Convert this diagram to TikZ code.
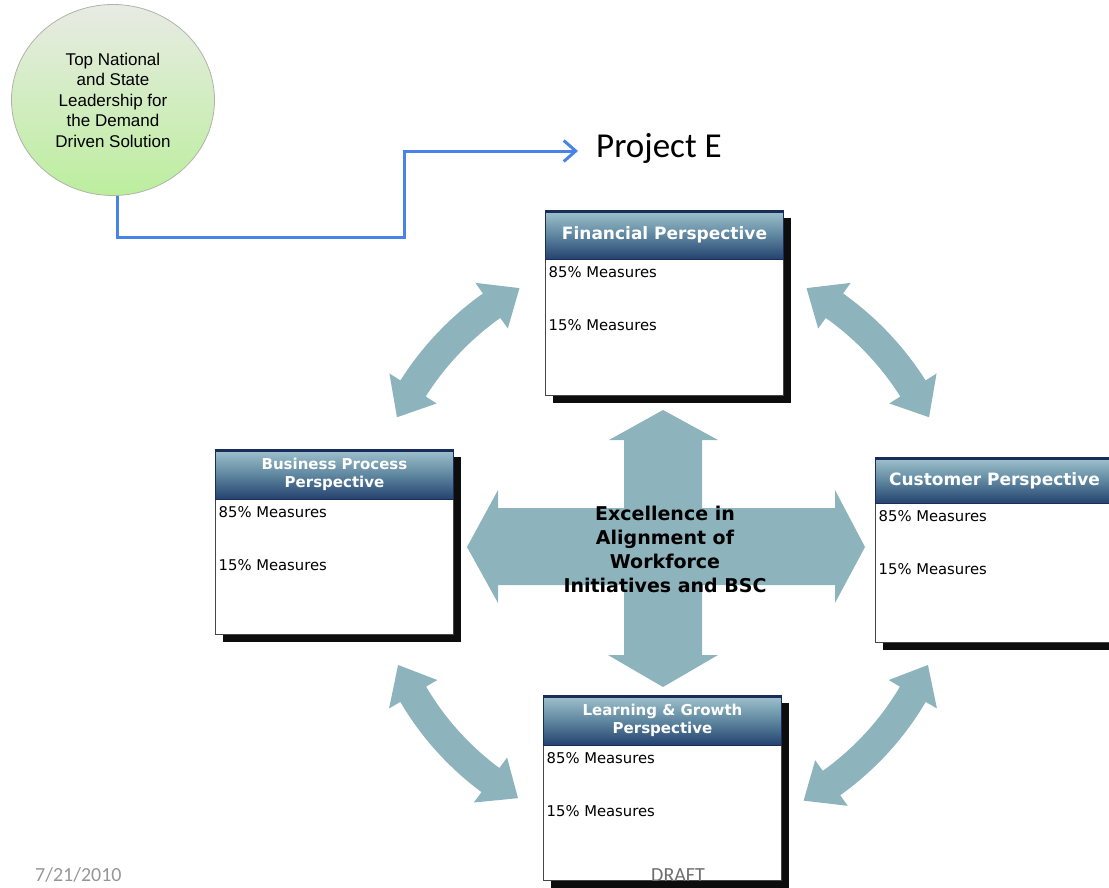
\documentclass[tikz,border=0pt]{standalone}
\usepackage{fontspec}
\setmainfont{DejaVu Sans}
\newfontfamily\arialf{Liberation Sans}
\newfontfamily\calif{Carlito}
\usetikzlibrary{arrows.meta,shapes.geometric,shadows}
\definecolor{arrowc}{RGB}{141,180,189}
\definecolor{connc}{RGB}{72,132,232}
\definecolor{navyc}{RGB}{25,45,90}
\definecolor{headtop}{RGB}{160,195,205}
\definecolor{headmid}{RGB}{95,135,160}
\definecolor{headbot}{RGB}{35,65,110}
\definecolor{leadtop}{RGB}{232,235,228}
\definecolor{leadbot}{RGB}{188,238,158}
\definecolor{leadline}{RGB}{175,180,170}
\definecolor{boxline}{RGB}{70,70,70}
\definecolor{dategray}{RGB}{150,150,150}
\definecolor{draftgray}{RGB}{110,110,110}

\newcommand\curvarr[3]{%
  \pgfmathsetmacro\caA{#1}%
  \pgfmathsetmacro\caB{#2}%
  \pgfmathsetmacro\caR{#3}%
  \pgfmathsetmacro\caS{sign(\caB-\caA)}%
  \pgfmathsetmacro\caF{33/\caR*180/pi}%
  \pgfmathsetmacro\caP{\caA+\caS*\caF}%
  \pgfmathsetmacro\caQ{\caB-\caS*\caF}%
  \fill[arrowc] ({663+\caR*cos(\caA)},{547-\caR*sin(\caA)})
    -- ({663+(\caR+28)*cos(\caP)},{547-(\caR+28)*sin(\caP)})
    -- plot[domain=\caP:\caQ,samples=30] ({663+(\caR+15)*cos(\x)},{547-(\caR+15)*sin(\x)})
    -- ({663+(\caR+28)*cos(\caQ)},{547-(\caR+28)*sin(\caQ)})
    -- ({663+\caR*cos(\caB)},{547-\caR*sin(\caB)})
    -- ({663+(\caR-28)*cos(\caQ)},{547-(\caR-28)*sin(\caQ)})
    -- plot[domain=\caQ:\caP,samples=30] ({663+(\caR-15)*cos(\x)},{547-(\caR-15)*sin(\x)})
    -- ({663+(\caR-28)*cos(\caP)},{547-(\caR-28)*sin(\caP)})
    -- cycle;
}

\newcommand\persp[6]{%
  \node[pboxbody, anchor=north west] (#1) at (#2,#3) {};
  \node[pboxhead, anchor=north west, minimum height=#4pt, font=\bfseries#6] (#1h) at (#1.north west) {#5};
  \draw[navyc, line width=3pt] ([yshift=-1pt]#1h.north west) -- ([yshift=-1pt]#1h.north east);
  \node[measure] (#1a) at ([xshift=3.5pt,yshift=-12.5pt]#1h.south west) {85\% Measures};
  \node[measure] (#1b) at ([xshift=3.5pt,yshift=-65.5pt]#1h.south west) {15\% Measures};
}

\begin{document}
\begin{tikzpicture}[x=1pt,y=-1pt,
  pboxbody/.style={draw=boxline, line width=1pt, fill=white, minimum width=238pt,
    minimum height=185pt, inner sep=0pt,
    drop shadow={shadow xshift=7pt,shadow yshift=-7pt,opacity=0.95,fill=black}},
  pboxhead/.style={draw=navyc, line width=1pt, top color=headtop, bottom color=headbot,
    middle color=headmid, minimum width=238pt, inner sep=0pt, text=white, align=center},
  measure/.style={font=\fontsize{14.8}{17}\selectfont, inner sep=0pt, anchor=west},
  conn/.style={draw=connc, line width=3pt, -{Straight Barb[length=12pt,width=21pt]}},
]
\useasboundingbox (0,0) rectangle (1109,887);
\clip (0,0) rectangle (1109,887);

% curved double arrows
\curvarr{119}{154}{296}
\curvarr{61}{26}{296}
\curvarr{204}{240}{290}
\curvarr{-24}{-61}{290}

% central cross arrows
\fill[arrowc] (663,410) -- (718,440) -- (702,440) -- (702,655) -- (718,655) -- (663,687)
  -- (608,655) -- (624,655) -- (624,440) -- (609,440) -- cycle;
\fill[arrowc] (467,547) -- (498,490) -- (498,508) -- (835,508) -- (835,490) -- (865,547)
  -- (835,603) -- (835,585) -- (498,585) -- (498,603) -- cycle;

\node[font=\bfseries\fontsize{19}{24}\selectfont, align=center, inner sep=0pt] (core)
  at (665,549) {Excellence in\\Alignment of\\Workforce\\Initiatives and BSC};

% leadership circle and connector
\node[ellipse, minimum width=203pt, minimum height=191pt, draw=leadline, line width=0.8pt,
  top color=leadtop, bottom color=leadbot, inner sep=0pt, align=center,
  font=\arialf\fontsize{17}{20.5}\selectfont] (lead) at (113,100)
  {Top National\\and State\\Leadership for\\the Demand\\Driven Solution};
\node[font=\calif\fontsize{35}{40}\selectfont, inner sep=0pt, anchor=base west] (proj)
  at (596,157) {Project E};
\coordinate (bend) at (404,237);
\coordinate (pe) at (578,151);
\draw[conn] ([xshift=4pt]lead.south) |- (bend) |- (pe);

% perspective boxes
\persp{fin}{545}{210}{49}{Financial Perspective}{\fontsize{17}{20}\selectfont}
\persp{bus}{215}{449}{50}{Business Process\\Perspective}{\fontsize{15}{18}\selectfont}
\persp{cus}{875}{457}{46}{Customer Perspective}{\fontsize{17}{20}\selectfont}
\persp{lrn}{543}{695}{50}{Learning \& Growth\\Perspective}{\fontsize{15}{18}\selectfont}

% footer
\node[font=\calif\fontsize{20}{24}\selectfont, text=dategray, anchor=base west, inner sep=0pt]
  (date) at (35,881) {7/21/2010};
\node[font=\calif\fontsize{20}{24}\selectfont, text=draftgray, anchor=base west, inner sep=0pt]
  (draft) at (651,881) {DRAFT};
\end{tikzpicture}
\end{document}
